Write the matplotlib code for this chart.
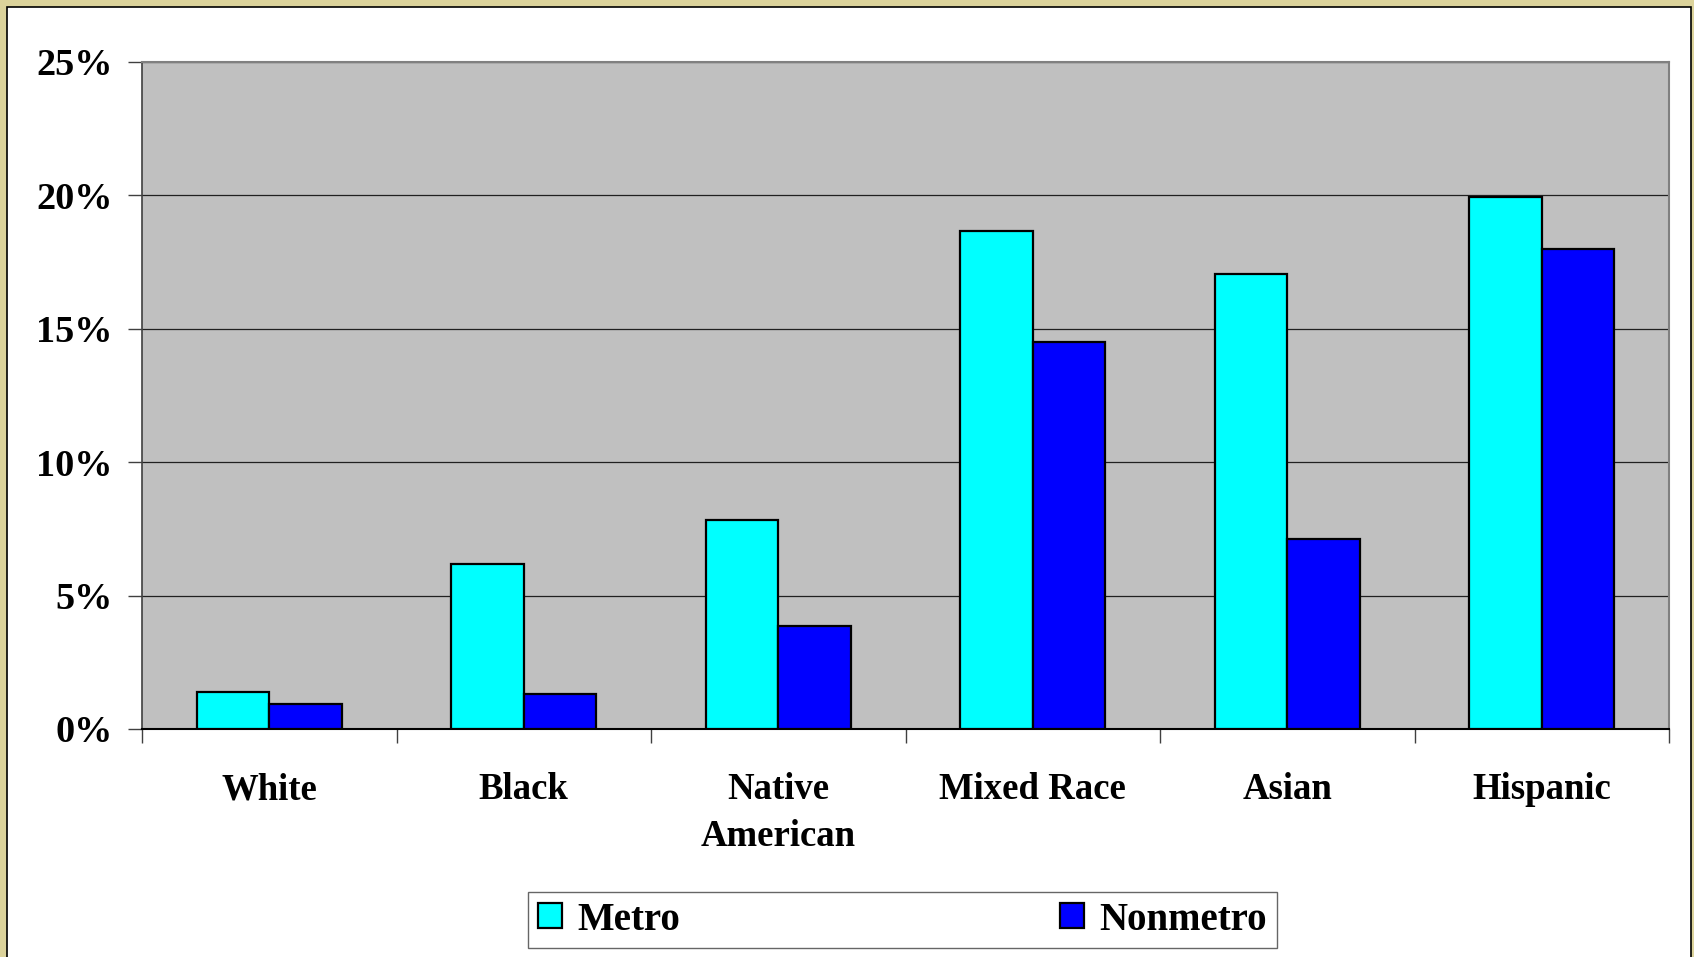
import numpy as np
import matplotlib
matplotlib.use("Agg")
import matplotlib.pyplot as plt
from matplotlib.patches import Rectangle

# Data (percent)
categories = ["White", "Black", "Native\nAmerican", "Mixed Race", "Asian", "Hispanic"]
metro = [1.4, 6.2, 7.85, 18.65, 17.05, 19.95]
nonmetro = [0.93, 1.3, 3.87, 14.5, 7.12, 18.0]
y_ticks = [0, 5, 10, 15, 20, 25]

plt.rcParams['font.family'] = ['Liberation Serif', 'DejaVu Serif']
plt.rcParams['font.weight'] = 'bold'

W, H = 1694, 957
fig = plt.figure(figsize=(W / 100, H / 100), dpi=100)
fig.patch.set_facecolor('#DCD39B')

# white panel with thin black frame inside the beige border
fig.patches.append(Rectangle((7 / W, -0.01), (1691 - 7) / W, 1 - 7 / H + 0.01,
                             transform=fig.transFigure, facecolor='white',
                             edgecolor='black', linewidth=1.2, zorder=-5))

ax = fig.add_axes([142 / W, 1 - 729 / H, (1669 - 142) / W, (729 - 62) / H])
ax.set_facecolor('#C0C0C0')

x = np.arange(len(categories))
w = 0.2857
ax.bar(x - w / 2, metro, w, color='#00FFFF', edgecolor='black', linewidth=1.6,
       label='Metro', zorder=3)
ax.bar(x + w / 2, nonmetro, w, color='#0000FF', edgecolor='black', linewidth=1.6,
       label='Nonmetro', zorder=3)

ax.set_xlim(-0.5, len(categories) - 0.5)
ax.set_ylim(0, 25)
ax.set_yticks(y_ticks)
ax.set_yticklabels([f"{t}%" for t in y_ticks])
ax.yaxis.grid(True, color='#202020', linewidth=0.9, zorder=1)
ax.tick_params(axis='y', length=10, width=1, color='#404040', pad=11,
               labelsize=27.5)

ax.set_xticks(x)
ax.set_xticklabels(categories, linespacing=1.45)
ax.set_xticks(np.arange(len(categories) + 1) - 0.5, minor=True)
ax.tick_params(axis='x', which='major', length=0, pad=31, labelsize=26.5)
ax.tick_params(axis='x', which='minor', length=10, width=1, color='#404040')
for lab in ax.get_xticklabels():
    lab.set_horizontalalignment('center')

for side in ['top', 'right']:
    ax.spines[side].set_color('#808080')
    ax.spines[side].set_linewidth(1.5)
ax.spines['left'].set_color('#404040')
ax.spines['bottom'].set_color('black')
ax.spines['left'].set_linewidth(1.2)
ax.spines['bottom'].set_linewidth(1.5)

leg = fig.legend(loc='center', ncol=2, mode='expand',
                 bbox_to_anchor=(528 / W, 1 - 951 / H, (1277 - 528) / W, (951 - 889) / H),
                 frameon=True, fancybox=False, shadow=False, fontsize=28,
                 handlelength=0.62, handleheight=0.62, handletextpad=0.4,
                 borderpad=0.25, borderaxespad=0)
leg.get_frame().set_edgecolor('#404040')
leg.get_frame().set_linewidth(1.0)

fig.savefig('out.png', dpi=100, facecolor=fig.get_facecolor())
